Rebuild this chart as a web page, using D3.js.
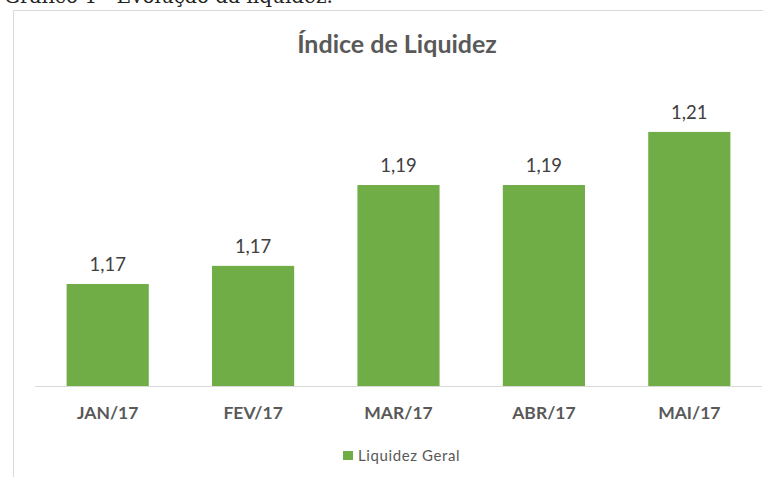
<!DOCTYPE html>
<html>
<head>
<meta charset="utf-8">
<script src="https://cdn.jsdelivr.net/npm/d3@7"></script>
<style>
  body { margin: 0; background: #fff; }
  svg { display: block; }
</style>
</head>
<body>
<div id="cont"></div>
<script>
// Data
var months = ["JAN/17", "FEV/17", "MAR/17", "ABR/17", "MAI/17"];
var liquidez = [1.1665, 1.1712, 1.1922, 1.1922, 1.206];
var seriesName = "Liquidez Geral";

var W = 763, H = 477;
var font = "Lato, 'Open Sans', sans-serif";
var green = "#70ad47";

var svg = d3.select("#cont").append("svg")
    .attr("width", W)
    .attr("height", H);

// caption above the chart frame (cut off in the reference)
svg.append("text")
    .attr("x", 4)
    .attr("y", 3)
    .attr("font-family", "'DejaVu Serif', 'Liberation Serif', serif")
    .attr("font-size", 20)
    .attr("fill", "#222")
    .text("Gráfico 1 - Evolução da liquidez.");

// chart frame
svg.append("path")
    .attr("d", "M13.5," + H + "V10.5H" + W)
    .attr("fill", "none")
    .attr("stroke", "#d9d9d9")
    .attr("stroke-width", 1);

// scales
var x = d3.scaleBand()
    .domain(months)
    .range([35, 762])
    .paddingInner(0.435)
    .paddingOuter(0.2175);

var y = d3.scaleLinear()
    .domain([1.14, 1.22])
    .range([386, 78]);

// title
svg.append("text")
    .attr("x", 397)
    .attr("y", 53)
    .attr("text-anchor", "middle")
    .attr("font-family", font)
    .attr("font-weight", "bold")
    .attr("font-size", 25)
    .attr("fill", "#595959")
    .text("Índice de Liquidez");

// bars
svg.selectAll("rect.bar")
    .data(liquidez)
    .enter().append("rect")
    .attr("class", "bar")
    .attr("x", function(d, i) { return x(months[i]); })
    .attr("y", function(d) { return y(d); })
    .attr("width", x.bandwidth())
    .attr("height", function(d) { return y.range()[0] - y(d); })
    .attr("fill", green);

// data labels
var fmt = function(v) { return d3.format(".2f")(v).replace(".", ","); };
svg.selectAll("text.lbl")
    .data(liquidez)
    .enter().append("text")
    .attr("class", "lbl")
    .attr("x", function(d, i) { return x(months[i]) + x.bandwidth() / 2; })
    .attr("y", function(d) { return y(d) - 13; })
    .attr("text-anchor", "middle")
    .attr("font-family", font)
    .attr("font-size", 18.5)
    .attr("fill", "#404040")
    .text(fmt);

// x axis
var xAxis = svg.append("g")
    .attr("transform", "translate(0,386)")
    .call(d3.axisBottom(x).tickSize(0).tickPadding(21));
xAxis.select(".domain")
    .attr("d", "M35,0.5H762")
    .attr("stroke", "#d9d9d9");
xAxis.selectAll("text")
    .attr("font-family", font)
    .attr("font-weight", "bold")
    .attr("font-size", 17.5)
    .attr("fill", "#595959");

// legend
var leg = svg.append("g").attr("transform", "translate(343,451)");
leg.append("rect")
    .attr("width", 10)
    .attr("height", 9)
    .attr("fill", green);
leg.append("text")
    .attr("x", 15)
    .attr("y", 9.5)
    .attr("font-family", font)
    .attr("font-size", 15)
    .attr("letter-spacing", 0.6)
    .attr("fill", "#595959")
    .text(seriesName);
</script>
</body>
</html>
